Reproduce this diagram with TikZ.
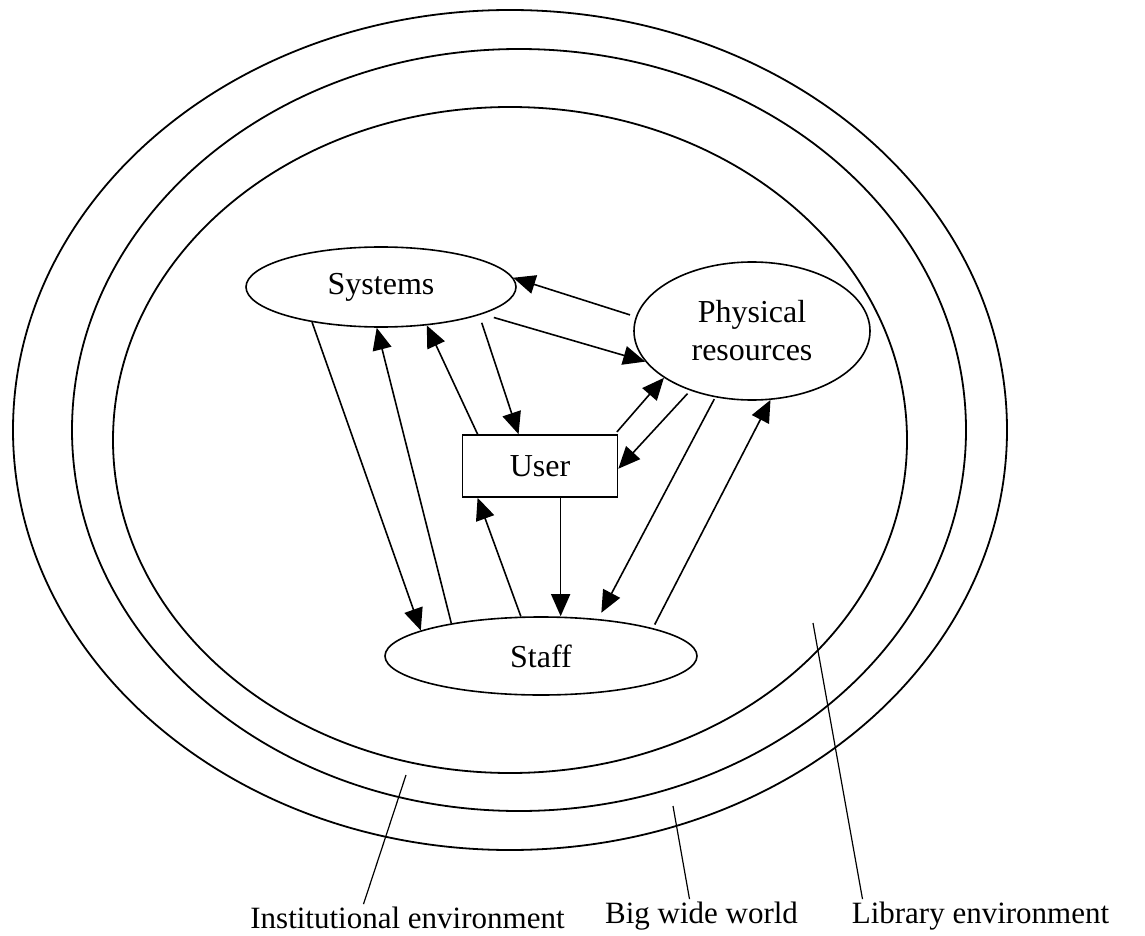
\documentclass[tikz,border=0pt]{standalone}
\usepackage{fontspec}
\setmainfont{Liberation Serif}
\usetikzlibrary{arrows.meta, shapes.geometric, positioning}
\tikzset{>={Triangle[length=11pt, width=9.5pt]}}
\tikzset{font=\fontsize{16}{19}\selectfont}
\tikzset{ring/.style={line width=0.9pt},
  link/.style={->, line width=0.8pt},
  blob/.style={ellipse, draw, line width=0.8pt, inner sep=0pt},
  box/.style={rectangle, draw, line width=0.8pt, inner sep=0pt},
  tag/.style={font=\fontsize{15.5}{18}\selectfont, inner sep=1pt},
  pointer/.style={line width=0.6pt}}

\begin{document}
\begin{tikzpicture}[x=0.5pt, y=-0.5pt]
  \useasboundingbox (0,0) rectangle (1145,936);
  % big wide world, institution, library
  \draw[ring] (510,430) ellipse (497 and 420);
  \draw[ring] (519,430) ellipse (447 and 381);
  \draw[ring] (510,440) ellipse (397 and 333);

  \node[blob, minimum width=135pt, minimum height=40pt] (systems) at (381,287) {Systems};
  \node[blob, minimum width=118pt, minimum height=69pt, align=center] (physical) at (752,331) {Physical\\resources};
  \node[box, minimum width=77.5pt, minimum height=31pt] (user) at (540,466) {User};
  \node[blob, minimum width=156pt, minimum height=39pt] (staff) at (541,656) {Staff};

  \draw[link, shorten <=3pt] (physical.173) -- (systems.4);
  \draw[link, shorten <=6pt] (systems.-15) -- (physical.196);
  \draw[link, shorten <=4pt] (systems.-16) -- (user.124);
  \draw[link] (user.153) -- (systems.-40);
  \draw[link] (staff.160) -- (systems.264);
  \draw[link] (systems.207) -- (staff.168);
  \draw[link, shorten <=1.5pt] (user.23) -- (physical.208);
  \draw[link, shorten <=2pt] (physical.224) -- (user.-2);
  \draw[link, shorten <=1pt, shorten >=3.5pt] (physical.241) -- (staff.33);
  \draw[link, shorten <=2pt] (staff.14) -- (physical.285);
  \draw[link] (staff.117) -- (user.207);
  \draw[link] (user.303) -- (user.303 |- staff.north);

  % labels for the rings
  \node[tag, anchor=base] (instlabel) at (407.5,928) {Institutional environment};
  \node[tag, anchor=base] (worldlabel) at (701.5,923) {Big wide world};
  \node[tag, anchor=base] (liblabel) at (980.5,923) {Library environment};
  \coordinate (instpt) at (406,775);
  \coordinate (worldpt) at (673,806);
  \coordinate (libpt) at (813,623);
  \draw[pointer] (instpt) -- ([xshift=-22pt]instlabel.north);
  \draw[pointer] (worldpt) -- ([xshift=-6pt]worldlabel.north);
  \draw[pointer] (libpt) -- ([xshift=-59pt]liblabel.north);
\end{tikzpicture}
\end{document}
